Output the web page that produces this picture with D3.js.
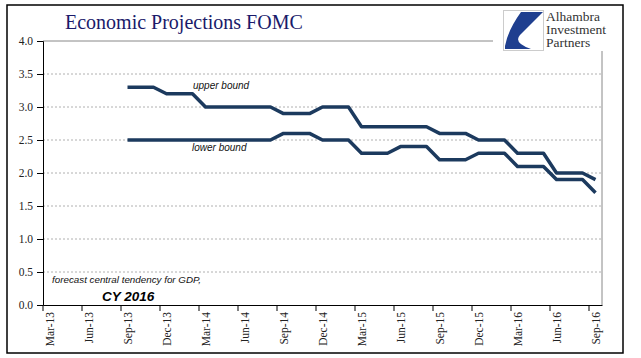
<!DOCTYPE html>
<html><head><meta charset="utf-8">
<script src="https://cdn.jsdelivr.net/npm/d3@7"></script>
<style>body{margin:0;background:#fff}svg{display:block}</style>
</head><body>
<svg id="c" width="641" height="358"></svg>
<script>
// all months on the axis (band categories)
const months = ["Mar-13","Apr-13","May-13","Jun-13","Jul-13","Aug-13","Sep-13","Oct-13","Nov-13","Dec-13","Jan-14","Feb-14",
"Mar-14","Apr-14","May-14","Jun-14","Jul-14","Aug-14","Sep-14","Oct-14","Nov-14","Dec-14","Jan-15","Feb-15",
"Mar-15","Apr-15","May-15","Jun-15","Jul-15","Aug-15","Sep-15","Oct-15","Nov-15","Dec-15","Jan-16","Feb-16",
"Mar-16","Apr-16","May-16","Jun-16","Jul-16","Aug-16","Sep-16"];
const tickLabels = ["Mar-13","Jun-13","Sep-13","Dec-13","Mar-14","Jun-14","Sep-14","Dec-14","Mar-15","Jun-15","Sep-15","Dec-15","Mar-16","Jun-16","Sep-16"];
const dataMonths = months.slice(6); // Sep-13 .. Sep-16
const upperBound = [3.3,3.3,3.3,3.2,3.2,3.2,3.0,3.0,3.0,3.0,3.0,3.0,2.9,2.9,2.9,3.0,3.0,3.0,
  2.7,2.7,2.7,2.7,2.7,2.7,2.6,2.6,2.6,2.5,2.5,2.5,2.3,2.3,2.3,2.0,2.0,2.0,1.9];
const lowerBound = [2.5,2.5,2.5,2.5,2.5,2.5,2.5,2.5,2.5,2.5,2.5,2.5,2.6,2.6,2.6,2.5,2.5,2.5,
  2.3,2.3,2.3,2.4,2.4,2.4,2.2,2.2,2.2,2.3,2.3,2.3,2.1,2.1,2.1,1.9,1.9,1.9,1.7];
const yTicks = [0,0.5,1,1.5,2,2.5,3,3.5,4];

const svg = d3.select("#c");
const L=43, R=602, T=41, B=305;
const x = d3.scaleBand().domain(months).range([L,R]).padding(0);
const y = d3.scaleLinear().domain([0,4]).range([B,T]);
const bw = x.bandwidth();

// outer frame
svg.append("rect").attr("x",7).attr("y",5).attr("width",616).attr("height",348)
  .attr("fill","#fff").attr("stroke","#000").attr("stroke-width",1.5);

// gridlines
svg.append("g").selectAll("line").data(yTicks.filter(d=>d>0&&d<4)).join("line")
  .attr("x1",L).attr("x2",R).attr("y1",d=>y(d)).attr("y2",d=>y(d))
  .attr("stroke","#b0b0b0").attr("stroke-width",1).attr("stroke-dasharray","2,2");
// plot border top/right
svg.append("path").attr("d",`M${L},${y(4)}H${R}V${B}`).attr("fill","none").attr("stroke","#888").attr("stroke-width",1);

// y axis
const ya = svg.append("g").attr("transform",`translate(${L},0)`)
  .call(d3.axisLeft(y).tickValues(yTicks).tickFormat(d3.format(".1f")).tickSize(6).tickPadding(4));
ya.select(".domain").attr("stroke","#000");
ya.selectAll(".tick line").attr("stroke","#000");
ya.selectAll("text").attr("font-family","Liberation Serif").attr("font-size",11.5).attr("fill","#222");

// x axis
const xa = svg.append("g").attr("transform",`translate(0,${B})`)
  .call(d3.axisBottom(x).tickValues(tickLabels).tickSize(6).tickSizeOuter(0));
xa.select(".domain").attr("stroke","#000");
xa.selectAll(".tick line").attr("stroke","#000").attr("transform",`translate(${-bw/2},0)`);
xa.selectAll(".tick text").attr("font-family","Liberation Serif").attr("font-size",11.5).attr("fill","#222")
  .attr("text-anchor","end").attr("dy",null).attr("y",0)
  .attr("transform","translate(4,7) rotate(-90)");

// lines
const line = d3.line().x((d,i)=>x(dataMonths[i])+bw/2).y(d=>y(d));
[upperBound, lowerBound].forEach(s=>{
  svg.append("path").datum(s).attr("d",line).attr("fill","none")
    .attr("stroke","#1c3a5e").attr("stroke-width",3.5).attr("stroke-linejoin","round");
});

// annotations
svg.append("text").attr("x",193).attr("y",89).text("upper bound")
  .attr("font-family","Liberation Sans").attr("font-style","italic").attr("font-size",10).attr("fill","#111");
svg.append("text").attr("x",192).attr("y",151).text("lower bound")
  .attr("font-family","Liberation Sans").attr("font-style","italic").attr("font-size",10).attr("fill","#111");
svg.append("text").attr("x",52).attr("y",283).text("forecast central tendency for GDP,")
  .attr("font-family","Liberation Sans").attr("font-style","italic").attr("font-size",9.8).attr("fill","#111");
svg.append("text").attr("x",102).attr("y",301).text("CY 2016")
  .attr("font-family","Liberation Sans").attr("font-style","italic").attr("font-weight","bold").attr("font-size",13.5).attr("fill","#000");

// title
svg.append("text").attr("x",65).attr("y",29).text("Economic Projections FOMC")
  .attr("font-family","Liberation Serif").attr("font-size",20).attr("fill","#1a1a6a");

// logo
const lg = svg.append("g");
lg.append("rect").attr("x",493).attr("y",8).attr("width",127).attr("height",43).attr("fill","#fff");
lg.append("rect").attr("x",503.5).attr("y",10.5).attr("width",40).attr("height",40).attr("fill","#fff").attr("stroke","#ccc");
lg.append("path").attr("d","M521,12 L543,12 L520,35 Q513,43 531,49 L505,49 L505,46 Q508,30 521,12 Z").attr("fill","#1f3f8f");
["Alhambra","Investment","Partners"].forEach((t,i)=>{
  lg.append("text").attr("x",546).attr("y",21+i*13).text(t)
    .attr("font-family","Liberation Serif").attr("font-size",13.5).attr("fill","#333");
});
</script>
</body></html>
